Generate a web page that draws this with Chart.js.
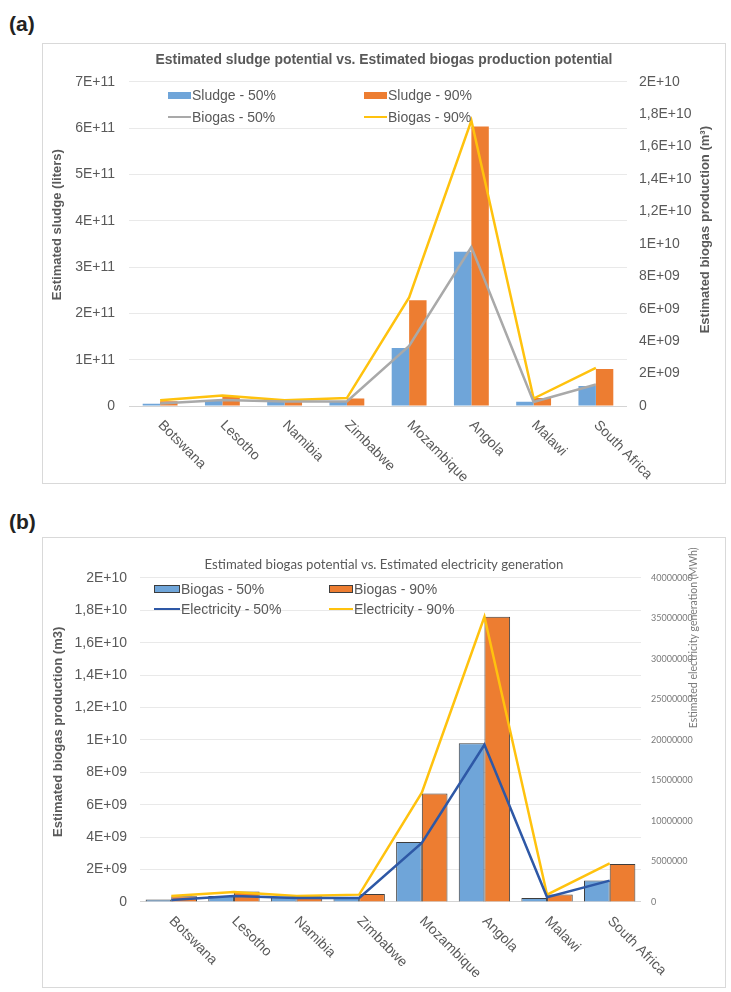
<!DOCTYPE html>
<html>
<head>
<meta charset="utf-8">
<script src="https://cdn.jsdelivr.net/npm/chart.js@4.4.0/dist/chart.umd.min.js"></script>
<style>
body { margin:0; background:#fff; width:731px; height:992px; position:relative; overflow:hidden; font-family:'Liberation Sans', Arial, sans-serif; }
.tag { position:absolute; left:9px; font: bold 21px 'Liberation Sans Narrow','Liberation Sans',sans-serif; color:#222; }
.frame { position:absolute; left:42px; width:684px; border:1px solid #d9d9d9; box-sizing:border-box; }
.wrap { position:absolute; left:42px; width:684px; }
.item { position:absolute; white-space:nowrap; font-size:14px; color:#595959; line-height:16px; }
.sw { position:absolute; top:50%; }
</style>
</head>
<body>
<div class="tag" style="top:12px">(a)</div>
<div class="frame" style="top:43px;height:441px"></div>
<div class="wrap" style="top:43px;height:440px"><canvas id="chartA" width="684" height="440"></canvas></div>

<div class="tag" style="top:510px">(b)</div>
<div class="frame" style="top:537px;height:451px"></div>
<div class="wrap" style="top:537px;height:450px"><canvas id="chartB" width="684" height="450"></canvas></div>

<div id="legendA"></div>
<div id="legendB"></div>

<script>
// categories
const countries = ['Botswana', 'Lesotho', 'Namibia', 'Zimbabwe', 'Mozambique', 'Angola', 'Malawi', 'South Africa'];

// (a) estimated sludge, liters
const sludge50 = [5e9, 1.3e10, 1.1e10, 1.1e10, 1.25e11, 3.33e11, 9e9, 4.3e10];
const sludge90 = [1e10, 2e10, 1.2e10, 1.6e10, 2.28e11, 6.03e11, 1.7e10, 8e10];

// biogas production, m3 (lines in (a), bars in (b))
const biogas50 = [1.6e8, 3.7e8, 2.8e8, 2.8e8, 3.7e9, 9.8e9, 2.5e8, 1.33e9];
const biogas90 = [3.5e8, 6.5e8, 3.5e8, 4.9e8, 6.69e9, 1.76e10, 4.6e8, 2.35e9];

// (b) electricity generation, MWh
const elec50 = [2.5e5, 7.4e5, 5e5, 5e5, 7.3e6, 1.94e7, 6e5, 2.64e6];
const elec90 = [7.4e5, 1.23e6, 7.5e5, 9.1e5, 1.35e7, 3.52e7, 9e5, 4.77e6];

const grey = '#595959';
const cBlue = '#6FA5D9';
const cOrange = '#ED7D31';
const cGrey = '#A9A9A9';
const cYellow = '#FFC20E';
const cNavy = '#2E58A6';

Chart.defaults.font.family = "'Liberation Sans', Arial, sans-serif";
Chart.defaults.color = grey;

// 1,8E+10 style labels
function sci(v) {
    if (v === 0) return '0';
    const parts = v.toExponential().split('e');
    const m = parseFloat(Number(parts[0]).toPrecision(6)).toString().replace('.', ',');
    const e = parseInt(parts[1], 10);
    const ee = String(Math.abs(e)).padStart(2, '0');
    return m + 'E' + (e < 0 ? '-' : '+') + ee;
}

// rotated category labels going down to the right
const xLabels = {
    id: 'xLabels',
    afterDraw(chart) {
        const ctx = chart.ctx;
        const x = chart.scales.x;
        const area = chart.chartArea;
        ctx.save();
        ctx.font = "14px 'Liberation Sans', Arial, sans-serif";
        ctx.fillStyle = grey;
        ctx.textAlign = 'left';
        ctx.textBaseline = 'middle';
        countries.forEach((c, i) => {
            ctx.save();
            ctx.translate(x.getPixelForValue(i), area.bottom + 17);
            ctx.rotate(Math.PI / 4);
            ctx.fillText(c, 0, 0);
            ctx.restore();
        });
        ctx.restore();
    }
};

// vertical axis titles, all read bottom to top like the original
const sideTitles = {
    id: 'sideTitles',
    afterDraw(chart, args, opts) {
        const ctx = chart.ctx;
        const area = chart.chartArea;
        (opts.items || []).forEach(t => {
            ctx.save();
            ctx.font = t.font;
            ctx.fillStyle = t.color;
            ctx.textAlign = 'center';
            ctx.textBaseline = 'middle';
            const x = t.side === 'left' ? area.left + t.dx : area.right + t.dx;
            ctx.translate(x, area.top + t.dy);
            ctx.rotate(-Math.PI / 2);
            ctx.fillText(t.text, 0, 0);
            ctx.restore();
        });
    }
};

function gridColor(c) {
    return c.tick && c.tick.value === 0 ? '#d4d4d4' : '#e9e9e9';
}

// chart (a)
new Chart(document.getElementById('chartA').getContext('2d'), {
    type: 'bar',
    data: {
        labels: countries,
        datasets: [
            { type: 'line', label: 'Biogas - 50%', data: biogas50, yAxisID: 'y1', borderColor: cGrey, borderWidth: 2.5, pointRadius: 0, tension: 0, order: 0 },
            { type: 'line', label: 'Biogas - 90%', data: biogas90, yAxisID: 'y1', borderColor: cYellow, borderWidth: 2.5, pointRadius: 0, tension: 0, order: 0 },
            { label: 'Sludge - 50%', data: sludge50, yAxisID: 'y', backgroundColor: cBlue, order: 1 },
            { label: 'Sludge - 90%', data: sludge90, yAxisID: 'y', backgroundColor: cOrange, order: 1 }
        ]
    },
    options: {
        responsive: false,
        animation: false,
        datasets: { bar: { categoryPercentage: 0.56, barPercentage: 1 } },
        layout: { padding: 0 },
        plugins: {
            legend: { display: false },
            tooltip: { enabled: false },
            title: {
                display: true,
                text: 'Estimated sludge potential vs. Estimated biogas production potential',
                color: grey,
                font: { size: 13.9, weight: 'bold' },
                padding: { top: 9, bottom: 13 }
            },
            sideTitles: {
                items: [
                    { side: 'left', dx: -72, dy: 143, text: 'Estimated sludge (liters)', font: "bold 13px 'Liberation Sans', Arial, sans-serif", color: grey },
                    { side: 'right', dx: 78, dy: 148, text: 'Estimated biogas production (m³)', font: "bold 13px 'Liberation Sans', Arial, sans-serif", color: grey }
                ]
            }
        },
        scales: {
            x: {
                ticks: { display: false },
                grid: { display: false },
                border: { display: false },
                afterFit: s => { s.height = 77; }
            },
            y: {
                position: 'left',
                min: 0, max: 7e11,
                ticks: { stepSize: 1e11, padding: 14, color: grey, font: { size: 14 }, callback: v => sci(v) },
                grid: { color: gridColor, drawTicks: false },
                border: { display: false },
                afterFit: s => { s.width = 87; }
            },
            y1: {
                position: 'right',
                min: 0, max: 2e10,
                ticks: { stepSize: 2e9, padding: 12, color: grey, font: { size: 14 }, callback: v => sci(v) },
                grid: { drawOnChartArea: false, drawTicks: false },
                border: { display: false },
                afterFit: s => { s.width = 99; }
            }
        }
    },
    plugins: [xLabels, sideTitles]
});

// chart (b)
new Chart(document.getElementById('chartB').getContext('2d'), {
    type: 'bar',
    data: {
        labels: countries,
        datasets: [
            { type: 'line', label: 'Electricity - 50%', data: elec50, yAxisID: 'y1', borderColor: cNavy, borderWidth: 2.5, pointRadius: 0, tension: 0, order: 0 },
            { type: 'line', label: 'Electricity - 90%', data: elec90, yAxisID: 'y1', borderColor: cYellow, borderWidth: 2.5, pointRadius: 0, tension: 0, order: 0 },
            { label: 'Biogas - 50%', data: biogas50, yAxisID: 'y', backgroundColor: cBlue, borderColor: '#3d3d3d', borderWidth: 1, order: 1 },
            { label: 'Biogas - 90%', data: biogas90, yAxisID: 'y', backgroundColor: cOrange, borderColor: '#3d3d3d', borderWidth: 1, order: 1 }
        ]
    },
    options: {
        responsive: false,
        animation: false,
        datasets: { bar: { categoryPercentage: 0.82, barPercentage: 1 } },
        layout: { padding: 0 },
        plugins: {
            legend: { display: false },
            tooltip: { enabled: false },
            title: {
                display: true,
                text: 'Estimated biogas potential vs. Estimated electricity generation',
                color: grey,
                font: { family: "Lato, 'Open Sans', sans-serif", size: 13.2, weight: 'normal' },
                padding: { top: 20, bottom: 5 }
            },
            sideTitles: {
                items: [
                    { side: 'left', dx: -82, dy: 154, text: 'Estimated biogas production (m3)', font: "bold 13px 'Liberation Sans', Arial, sans-serif", color: grey },
                    { side: 'right', dx: 53, dy: 60, text: 'Estimated electricity generation (MWh)', font: "10.5px Lato, 'Open Sans', sans-serif", color: '#7a7a7a' }
                ]
            }
        },
        scales: {
            x: {
                ticks: { display: false },
                grid: { display: false },
                border: { display: false },
                afterFit: s => { s.height = 85; }
            },
            y: {
                position: 'left',
                min: 0, max: 2e10,
                ticks: { stepSize: 2e9, padding: 13, color: grey, font: { size: 14 }, callback: v => sci(v) },
                grid: { color: gridColor, drawTicks: false },
                border: { display: false },
                afterFit: s => { s.width = 98; }
            },
            y1: {
                position: 'right',
                min: 0, max: 4e7,
                ticks: { stepSize: 5e6, padding: 10, color: '#7a7a7a', font: { family: "Lato, 'Open Sans', sans-serif", size: 9 }, callback: v => String(v) },
                grid: { drawOnChartArea: false, drawTicks: false },
                border: { display: false },
                afterFit: s => { s.width = 85; }
            }
        }
    },
    plugins: [xLabels, sideTitles]
});

// legends laid over the plot areas, two columns like the original
function legend(id, items) {
    const el = document.getElementById(id);
    items.forEach(it => {
        const d = document.createElement('div');
        d.className = 'item';
        d.style.left = it.x + 'px';
        d.style.top = (it.y - 8) + 'px';
        d.style.paddingLeft = (it.w + 1) + 'px';
        const s = document.createElement('span');
        s.className = 'sw';
        s.style.left = '0px';
        s.style.width = it.w + 'px';
        if (it.kind === 'bar') {
            s.style.height = it.h + 'px';
            s.style.marginTop = (-it.h / 2) + 'px';
            s.style.background = it.color;
            if (it.border) s.style.boxShadow = 'inset 0 0 0 1px ' + it.border;
        } else {
            s.style.height = '2px';
            s.style.marginTop = '-1px';
            s.style.background = it.color;
        }
        d.appendChild(s);
        d.appendChild(document.createTextNode(it.text));
        el.appendChild(d);
    });
}

legend('legendA', [
    { x: 168, y: 95, w: 23, h: 7, kind: 'bar', color: cBlue, text: 'Sludge - 50%' },
    { x: 364, y: 95, w: 23, h: 7, kind: 'bar', color: cOrange, text: 'Sludge - 90%' },
    { x: 168, y: 117, w: 23, kind: 'line', color: cGrey, text: 'Biogas - 50%' },
    { x: 364, y: 117, w: 23, kind: 'line', color: cYellow, text: 'Biogas - 90%' }
]);
legend('legendB', [
    { x: 154, y: 589, w: 26, h: 8, kind: 'bar', color: cBlue, border: '#3d3d3d', text: 'Biogas - 50%' },
    { x: 329, y: 589, w: 24, h: 8, kind: 'bar', color: cOrange, border: '#3d3d3d', text: 'Biogas - 90%' },
    { x: 154, y: 609, w: 26, kind: 'line', color: cNavy, text: 'Electricity - 50%' },
    { x: 329, y: 609, w: 24, kind: 'line', color: cYellow, text: 'Electricity - 90%' }
]);
</script>
</body>
</html>
